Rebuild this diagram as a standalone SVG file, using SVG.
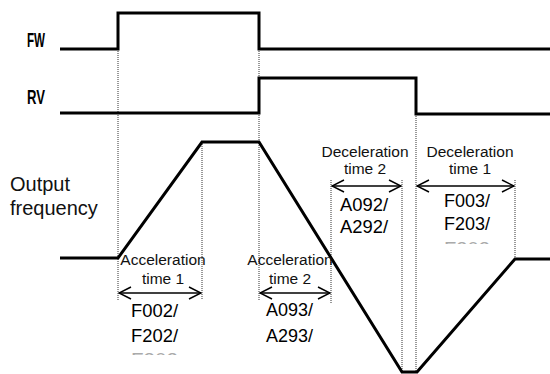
<svg xmlns="http://www.w3.org/2000/svg" width="550" height="374" viewBox="0 0 550 374">
<style>
.sig{fill:none;stroke:#000;stroke-width:3;stroke-linejoin:miter}
.dot{fill:none;stroke:#333;stroke-width:1;stroke-dasharray:1 1}
.arr{fill:none;stroke:#000;stroke-width:1.5}
.lbl{font-family:"Liberation Sans",Arial,sans-serif;fill:#111}
.big{font-size:20px}
.mid{font-size:15.5px;text-anchor:middle}
.code{font-family:"Liberation Sans",Arial,sans-serif;font-size:19px;fill:#000}
.signame{font-family:"Liberation Sans",Arial,sans-serif;font-size:20px;font-weight:bold;fill:#000}
.frag{fill:#aaa}
</style>
<defs>
<marker id="ah" viewBox="0 0 14 14" refX="13" refY="7" markerWidth="14" markerHeight="14" markerUnits="userSpaceOnUse" orient="auto-start-reverse">
<path d="M1,1 L13,7 L1,13" fill="none" stroke="#000" stroke-width="1.5"/>
</marker>
<clipPath id="cut"><rect x="0" y="0" width="550" height="355"/></clipPath>
<clipPath id="cut2"><rect x="0" y="0" width="550" height="244"/></clipPath>
</defs>
<rect width="550" height="374" fill="#fff"/>
<g id="connectors">
<path class="dot" d="M118,49 V300 M202,142 V300 M259,49 V300 M331,180 V303 M402,180 V372 M416,114 V372 M515,180 V260"/>
<path class="arr" d="M119,293 H201" marker-start="url(#ah)" marker-end="url(#ah)"/>
<path class="arr" d="M260,293 H330" marker-start="url(#ah)" marker-end="url(#ah)"/>
<path class="arr" d="M332,186 H401" marker-start="url(#ah)" marker-end="url(#ah)"/>
<path class="arr" d="M417,186 H514" marker-start="url(#ah)" marker-end="url(#ah)"/>
</g>
<g id="fw">
<path class="sig" d="M60,49 H118 V13 H259 V49 H550"/>
<text class="signame" x="27" y="47" textLength="18" lengthAdjust="spacingAndGlyphs">FW</text>
</g>
<g id="rv">
<path class="sig" d="M60,113 H259 V78 H416 V114 H550"/>
<text class="signame" x="27" y="104" textLength="18" lengthAdjust="spacingAndGlyphs">RV</text>
</g>
<g id="output">
<path class="sig" d="M60,258 H118 L202,142 H259 L402,372 H417 L515,259 H550"/>
<text class="lbl big" x="10" y="191">Output</text>
<text class="lbl big" x="10" y="215">frequency</text>
</g>
<g id="acc1">
<text class="lbl mid" x="163" y="265">Acceleration</text>
<text class="lbl mid" x="163" y="284">time 1</text>
<text class="code" x="131" y="317" textLength="47" lengthAdjust="spacingAndGlyphs">F002/</text>
<text class="code" x="131" y="342" textLength="47" lengthAdjust="spacingAndGlyphs">F202/</text>
<text class="code frag" x="131" y="366" textLength="47" lengthAdjust="spacingAndGlyphs" clip-path="url(#cut)">F302</text>
</g>
<g id="acc2">
<text class="lbl mid" x="290" y="265">Acceleration</text>
<text class="lbl mid" x="290" y="284">time 2</text>
<text class="code" x="266" y="316" textLength="47" lengthAdjust="spacingAndGlyphs">A093/</text>
<text class="code" x="266" y="342" textLength="47" lengthAdjust="spacingAndGlyphs">A293/</text>
</g>
<g id="dec2">
<text class="lbl mid" x="365" y="157">Deceleration</text>
<text class="lbl mid" x="365" y="174">time 2</text>
<text class="code" x="340" y="211" textLength="48" lengthAdjust="spacingAndGlyphs">A092/</text>
<text class="code" x="340" y="233" textLength="48" lengthAdjust="spacingAndGlyphs">A292/</text>
</g>
<g id="dec1">
<text class="lbl mid" x="470" y="157">Deceleration</text>
<text class="lbl mid" x="470" y="174">time 1</text>
<text class="code" x="444" y="207" textLength="46" lengthAdjust="spacingAndGlyphs">F003/</text>
<text class="code" x="444" y="230" textLength="46" lengthAdjust="spacingAndGlyphs">F203/</text>
<text class="code frag" x="444" y="255" textLength="46" lengthAdjust="spacingAndGlyphs" clip-path="url(#cut2)">F303</text>
</g>
</svg>
